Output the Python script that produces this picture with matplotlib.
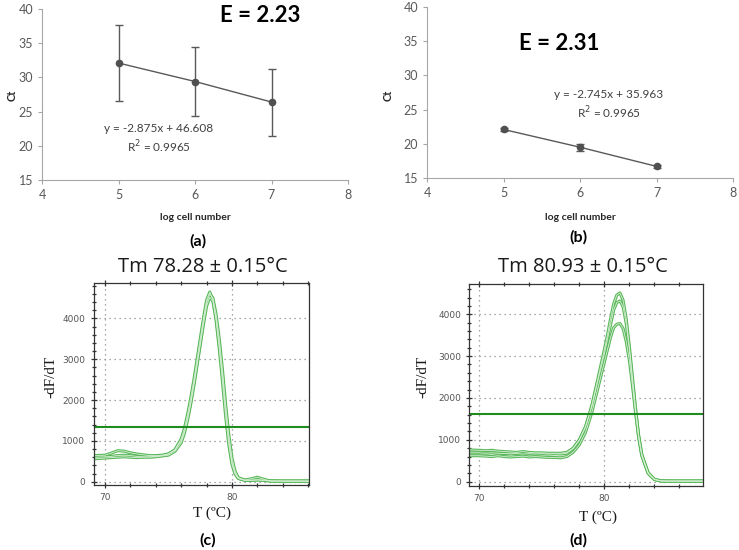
import matplotlib
matplotlib.use("Agg")
import matplotlib.pyplot as plt
from matplotlib.ticker import MultipleLocator

# ---- standard curves (a), (b) ----
log_cells = [5, 6, 7]
ct_a = [32.1, 29.4, 26.4]
err_a = [5.5, 5.1, 4.9]
ct_b = [22.1, 19.5, 16.7]
err_b = [0.2, 0.5, 0.2]
eq_a = "y = -2.875x + 46.608\nR$^2$ = 0.9965"
eq_b = "y = -2.745x + 35.963\nR$^2$ = 0.9965"
eff_a = "E = 2.23"
eff_b = "E = 2.31"

# ---- melt curves (c) ----
temp_c = [69.2, 70, 70.5, 71, 71.5, 72, 72.5, 73, 73.5, 74, 74.5, 75, 75.5, 76, 76.25, 76.5,
          76.75, 77, 77.25, 77.5, 77.75, 78, 78.25, 78.5, 78.75, 79, 79.25, 79.5, 79.75, 80,
          80.25, 80.5, 81, 81.5, 82, 82.5, 83, 84, 85, 86.1]
melt_c1 = [640, 650, 700, 760, 750, 710, 680, 660, 640, 640, 650, 680, 780, 1050, 1300, 1650,
           2050, 2500, 3000, 3500, 4000, 4450, 4650, 4450, 3950, 3250, 2450, 1600, 900, 420,
           180, 80, 40, 70, 110, 60, 20, 15, 15, 15]
melt_c2 = [600, 610, 620, 640, 650, 640, 620, 610, 600, 610, 640, 680, 770, 1000, 1230, 1560,
           1950, 2400, 2900, 3400, 3920, 4380, 4600, 4500, 4100, 3500, 2750, 1900, 1150, 580,
           250, 100, 40, 40, 50, 40, 20, 15, 15, 15]
melt_c3 = [560, 580, 590, 600, 610, 600, 590, 600, 610, 620, 630, 650, 740, 950, 1180, 1500,
           1900, 2350, 2850, 3350, 3850, 4300, 4520, 4420, 4000, 3350, 2600, 1750, 1000, 480,
           200, 80, 30, 30, 40, 30, 15, 15, 15, 15]
thresh_c = 1350
title_c = "Tm 78.28 ± 0.15°C"

# ---- melt curves (d) ----
temp_d = [69.2, 70, 70.5, 71, 71.5, 72, 72.5, 73, 73.5, 74, 74.5, 75, 75.5, 76, 76.5, 77, 77.5,
          78, 78.5, 79, 79.5, 80, 80.25, 80.5, 80.75, 81, 81.25, 81.5, 81.75, 82, 82.25, 82.5,
          82.75, 83, 83.5, 84, 84.5, 85, 86, 87, 87.9]
melt_d1 = [760, 750, 740, 750, 730, 720, 710, 700, 720, 700, 690, 690, 680, 680, 680, 700, 800,
           1000, 1320, 1820, 2480, 3150, 3500, 3900, 4250, 4460, 4510, 4340, 3900, 3250, 2500, 1750,
           1100, 650, 220, 60, 20, 15, 15, 15, 15]
melt_d2 = [690, 690, 680, 690, 680, 670, 680, 670, 660, 670, 660, 670, 660, 670, 660, 680, 790,
           990, 1300, 1790, 2430, 3050, 3400, 3750, 4100, 4280, 4320, 4180, 3780, 3150, 2430, 1700,
           1080, 630, 210, 55, 20, 15, 15, 15, 15]
melt_d3 = [620, 620, 610, 600, 620, 600, 590, 600, 610, 590, 600, 590, 580, 580, 570, 600, 700,
           880, 1180, 1650, 2250, 2850, 3150, 3450, 3680, 3760, 3780, 3660, 3350, 2900, 2300, 1650,
           1050, 620, 200, 50, 20, 15, 15, 15, 15]
thresh_d = 1620
title_d = "Tm 80.93 ± 0.15°C"

W, H = 739, 550
fig = plt.figure(figsize=(W / 100, H / 100), dpi=100)

def fx(px):
    return px / W

def fy(py):
    return 1 - py / H

GRAY = "#595959"
SANS = ["Lato", "DejaVu Sans"]
SERIF = ["Liberation Serif", "DejaVu Serif"]


def std_panel(rect, ct, err, eq, eq_xy, eff, eff_xy, lab_x):
    ax = fig.add_axes(rect)
    ax.errorbar(log_cells, ct, yerr=err, color=GRAY, lw=1.0, marker="o", ms=4.5,
                mfc="#505050", mec="#505050", ecolor=GRAY, elinewidth=1.0, capsize=3, capthick=1.0)
    ax.set_xlim(4, 8)
    ax.set_ylim(15, 40)
    ax.set_xticks([4, 5, 6, 7, 8])
    ax.set_yticks([15, 20, 25, 30, 35, 40])
    for s in ["top", "right"]:
        ax.spines[s].set_visible(False)
    for s in ["left", "bottom"]:
        ax.spines[s].set_color("#a6a6a6")
        ax.spines[s].set_linewidth(0.8)
    ax.tick_params(colors="#a6a6a6", labelcolor=GRAY, labelsize=9, length=3, width=0.8)
    for lb in ax.get_xticklabels() + ax.get_yticklabels():
        lb.set_family(SANS)
    ax.set_facecolor("none")
    fig.text(eq_xy[0], eq_xy[1], eq, ha="center", va="center", fontsize=8.5,
             color="#404040", family=SANS, linespacing=1.3)
    fig.text(eff_xy[0], eff_xy[1], eff, ha="center", va="center", fontsize=16,
             fontweight="bold", color="black", family=SANS)
    fig.text(lab_x, fy(217), "log cell number", ha="center", va="center", fontsize=7.5,
             fontweight="bold", color="#262626", family=SANS)
    return ax


std_panel([fx(42), fy(180), fx(306), 171 / H], ct_a, err_a, eq_a, (fx(159), fy(139)),
          eff_a, (fx(260), fy(15)), fx(195))
std_panel([fx(427), fy(178), fx(306), 171 / H], ct_b, err_b, eq_b, (fx(609), fy(105)),
          eff_b, (fx(559), fy(43)), fx(580))
fig.text(fx(12), fy(95), "Ct", rotation=90, ha="center", va="center", fontsize=8,
         fontweight="bold", family=SANS, color="#262626")
fig.text(fx(388), fy(95), "Ct", rotation=90, ha="center", va="center", fontsize=8,
         fontweight="bold", family=SANS, color="#262626")

fig.text(fx(198), fy(241), "(a)", ha="center", va="center", fontsize=11.5, fontweight="bold",
         family=SANS)
fig.text(fx(578), fy(237), "(b)", ha="center", va="center", fontsize=11.5, fontweight="bold",
         family=SANS)


def melt_panel(rect, temps, curves, thresh, xlim, ylim, title, title_xy, ylab_x, xlab_xy):
    ax = fig.add_axes(rect)
    for c in curves:
        ax.plot(temps, c, color="#5cb85c", lw=2.2, solid_joinstyle="round")
    for c in curves:
        ax.plot(temps, c, color="#d6f0d6", lw=0.6, solid_joinstyle="round")
    ax.axhline(thresh, color="#1e8c1e", lw=1.5)
    ax.set_xlim(*xlim)
    ax.set_ylim(*ylim)
    ax.set_xticks([70, 80])
    ax.set_yticks([0, 1000, 2000, 3000, 4000])
    ax.xaxis.set_minor_locator(MultipleLocator(2))
    ax.yaxis.set_minor_locator(MultipleLocator(200))
    ax.grid(True, which="major", ls=(0, (1, 3)), color="#8c8c8c", lw=0.9)
    ax.tick_params(which="both", direction="inout", top=True, colors="#333333",
                   labelcolor="#555555", labelsize=6.5, width=0.9)
    ax.tick_params(which="major", length=5)
    ax.tick_params(which="minor", length=3)
    for s in ax.spines.values():
        s.set_color("#333333")
        s.set_linewidth(0.9)
    fig.text(title_xy[0], title_xy[1], title, ha="center", va="center", fontsize=14.5,
             family=["Open Sans", "DejaVu Sans"], color="#1a1a1a")
    fig.text(ylab_x, fy(377), "-dF/dT", rotation=90, ha="center", va="center", fontsize=11,
             family=SERIF, color="#1a1a1a")
    fig.text(xlab_xy[0], xlab_xy[1], "T (ºC)", ha="center", va="center", fontsize=11,
             family=SERIF, color="#1a1a1a")
    return ax


melt_panel([fx(93.5), fy(485), fx(215.5), 202 / H], temp_c, [melt_c1, melt_c2, melt_c3], thresh_c,
           (69.1, 86.06), (-81, 4870), title_c, (fx(203), fy(267)), fx(51), (fx(212), fy(513)))
melt_panel([fx(469.3), fy(485.7), fx(233.4), 201.7 / H], temp_d, [melt_d1, melt_d2, melt_d3],
           thresh_d, (69.2, 87.87), (-96, 4723), title_d, (fx(583), fy(267)), fx(423),
           (fx(598), fy(517)))

fig.text(fx(208), fy(540), "(c)", ha="center", va="center", fontsize=11.5, fontweight="bold",
         family=SANS)
fig.text(fx(578), fy(540), "(d)", ha="center", va="center", fontsize=11.5, fontweight="bold",
         family=SANS)

fig.savefig("out.png", dpi=100)
